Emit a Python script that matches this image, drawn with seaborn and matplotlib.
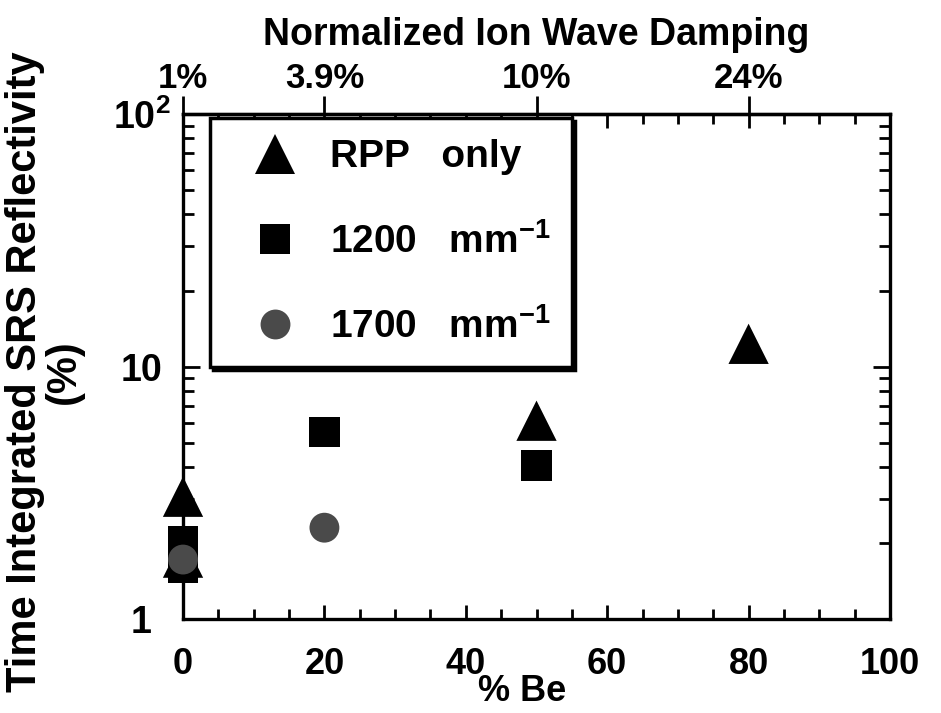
import numpy as np
import pandas as pd
import matplotlib
matplotlib.use("Agg")
import matplotlib.pyplot as plt
from matplotlib.lines import Line2D
from matplotlib.ticker import MultipleLocator, LogLocator, NullFormatter, FixedLocator
import seaborn as sns

# ---- data ----
rpp_be = [0, 0, 50, 80]
rpp_refl = [1.75, 3.05, 6.1, 12.3]
s1200_be = [0, 0, 20, 50]
s1200_refl = [2.03, 1.6, 5.5, 4.05]
s1700_be = [0, 20]
s1700_refl = [1.72, 2.3]

series_names = ["RPP   only", "1200   mm$^{-1}$", "1700   mm$^{-1}$"]
damp_pos = [0, 20, 50, 80]
damp_labels = ["1%", "3.9%", "10%", "24%"]
y_ticks = [1, 10, 100]
y_ticklabels = ["1", "10", "10$^2$"]

df = pd.DataFrame({
    "be": rpp_be + s1200_be + s1700_be,
    "refl": rpp_refl + s1200_refl + s1700_refl,
    "series": [series_names[0]] * len(rpp_be) + [series_names[1]] * len(s1200_be)
              + [series_names[2]] * len(s1700_be),
})

sns.set_theme(style="ticks")
plt.rcParams["font.family"] = ["Liberation Sans", "DejaVu Sans"]
plt.rcParams["font.weight"] = "bold"
plt.rcParams["text.color"] = "black"
plt.rcParams["axes.labelcolor"] = "black"
plt.rcParams["xtick.color"] = "black"
plt.rcParams["ytick.color"] = "black"
plt.rcParams["mathtext.fontset"] = "custom"
plt.rcParams["mathtext.rm"] = "Liberation Sans:bold"
plt.rcParams["mathtext.bf"] = "Liberation Sans:bold"
plt.rcParams["mathtext.default"] = "bf"

fig = plt.figure(figsize=(9.41, 7.13), dpi=100)
ax = fig.add_axes([0.1945, 0.1318, 0.7513, 0.7083])

markers = {series_names[0]: "^", series_names[1]: "s", series_names[2]: "o"}
palette = {series_names[0]: "black", series_names[1]: "black", series_names[2]: "#4a4a4a"}
sizes = {series_names[0]: 29 ** 2, series_names[1]: 22 ** 2, series_names[2]: 21.5 ** 2}

sns.scatterplot(data=df, x="be", y="refl", hue="series", style="series", size="series",
                markers=markers, palette=palette, sizes=sizes, linewidth=0,
                legend=False, ax=ax, zorder=3, clip_on=False)

ax.set_yscale("log")
ax.set_xlim(0, 100)
ax.set_ylim(1, 100)

# bottom/top ticks
ax.xaxis.set_major_locator(MultipleLocator(20))
ax.xaxis.set_minor_locator(MultipleLocator(5))
ax.tick_params(axis="x", which="major", direction="in", length=10, width=2,
               top=True, labeltop=False, labelsize=26, pad=20)
ax.tick_params(axis="x", which="minor", direction="in", length=7, width=2, top=True)

# y ticks
ax.yaxis.set_major_locator(FixedLocator(y_ticks))
ax.set_yticklabels(y_ticklabels)
ax.yaxis.set_minor_locator(LogLocator(base=10, subs=np.arange(2, 10)))
ax.yaxis.set_minor_formatter(NullFormatter())
ax.tick_params(axis="y", which="major", direction="in", length=12, width=2,
               right=True, labelsize=27, pad=30)
ax.tick_params(axis="y", which="minor", direction="in", length=8, width=2, right=True)
for lab in ax.get_yticklabels():
    lab.set_horizontalalignment("center")

for sp in ax.spines.values():
    sp.set_linewidth(2.4)
    sp.set_color("black")

ax.set_xlabel("% Be", fontsize=26, fontweight="bold")
ax.xaxis.set_label_coords(0.48, -0.108)
ax.set_ylabel("Time Integrated SRS Reflectivity\n(%)", fontsize=30, fontweight="bold",
              linespacing=0.95, va="center")
ax.yaxis.set_label_coords(-0.196, 0.49)

# top damping axis
sec = ax.secondary_xaxis("top")
sec.set_xticks(damp_pos, labels=damp_labels)
sec.tick_params(direction="out", length=13, width=2, labelsize=25, pad=1, colors="black")
sec.spines["top"].set_linewidth(2.4)
sec.set_xlabel("Normalized Ion Wave Damping", fontsize=27, fontweight="bold", labelpad=12)

# legend
handles = [
    Line2D([], [], marker="^", color="black", ls="none", markersize=29, markeredgewidth=0),
    Line2D([], [], marker="s", color="black", ls="none", markersize=22, markeredgewidth=0),
    Line2D([], [], marker="o", color="#4a4a4a", ls="none", markersize=21.5, markeredgewidth=0),
]
leg = ax.legend(handles, series_names, loc="upper left", bbox_to_anchor=(0.038, 0.992),
                borderaxespad=0, fontsize=28, frameon=True, fancybox=False, framealpha=1,
                edgecolor="black", handlelength=2.25, handletextpad=0.3, borderpad=0.55,
                labelspacing=1.22, shadow={"color": "black", "alpha": 1})
leg.get_frame().set_linewidth(2.5)
leg.set_zorder(5)

fig.savefig("out.png", dpi=100)
